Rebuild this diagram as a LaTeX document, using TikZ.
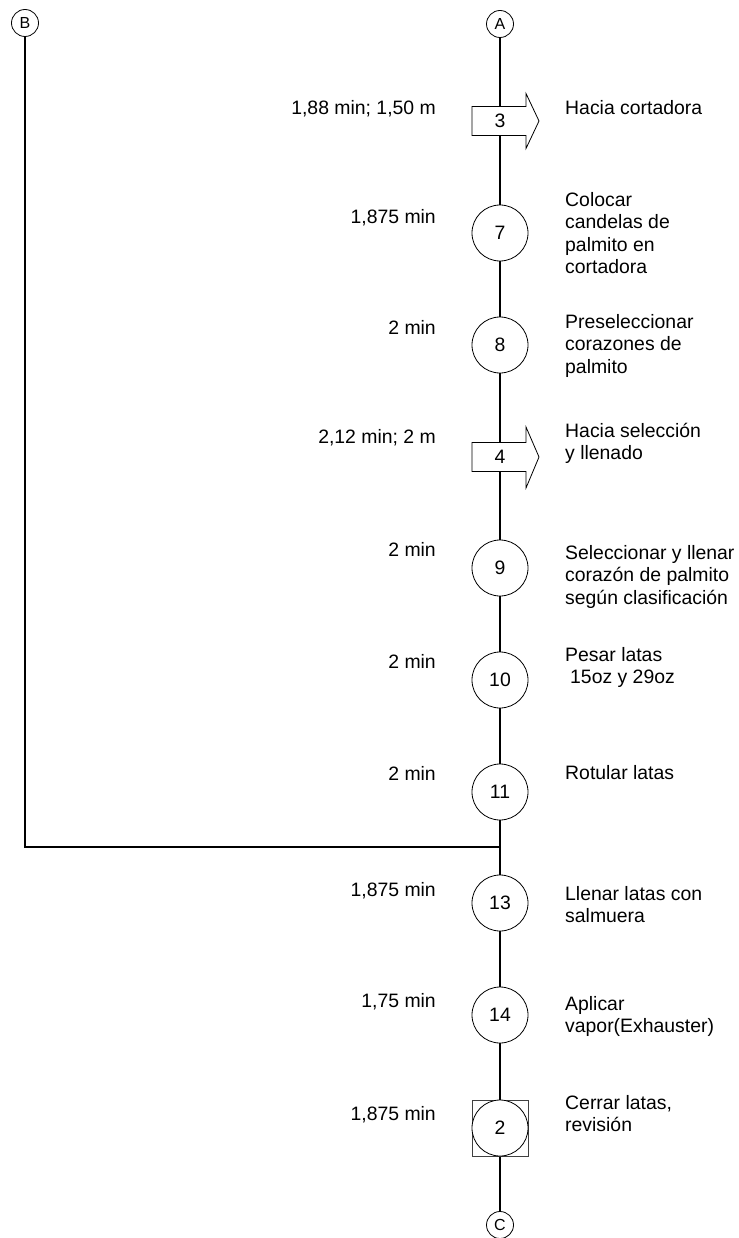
\documentclass[tikz,border=0pt]{standalone}
\usepackage{fontspec}
\setmainfont{Liberation Sans}
\begin{document}
\begin{tikzpicture}[x=1pt,y=-1pt,
  txt/.style={font=\fontsize{19.4}{22.5}\selectfont, inner sep=0pt},
  desc/.style={txt, align=left, anchor=north west},
  timing/.style={txt, anchor=base east},
  op/.style={circle, draw, fill=white, line width=0.8pt, minimum size=56pt, inner sep=0pt,
    font=\fontsize{19.4}{22.5}\selectfont},
  insp/.style={rectangle, draw=black!75, fill=white, line width=0.8pt, minimum size=56pt, inner sep=0pt},
  conn/.style={circle, draw, fill=white, line width=0.8pt, minimum size=27pt, inner sep=0pt,
    font=\fontsize{16}{18}\selectfont},
  flow/.style={line width=1.3pt},
  transp/.style={draw, fill=white, line width=0.8pt}
]
\useasboundingbox (0,0) rectangle (738,1238);
\newcommand\firstline{\rule{0pt}{15pt}}

% off-page connectors
\node[conn] (A) at (500,24) {A};
\node[conn] (B) at (25,23) {B};
\node[conn] (C) at (500,1225) {C};
\coordinate (join) at (500,847);

% main flow line and the branch coming from B
\draw[flow] (A.south) -- (C.north);
\draw[flow] (B.south) |- (join);

% transport 3
\filldraw[transp] (472,106.5) -- (526,106.5) -- (526,93.5) -- (539,121) -- (526,148.5)
  -- (526,135.5) -- (472,135.5) -- cycle;
\node[txt] (t3) at (500,121) {3};

% transport 4
\filldraw[transp] (472,442.5) -- (526,442.5) -- (526,427) -- (539,457) -- (526,488)
  -- (526,471.5) -- (472,471.5) -- cycle;
\node[txt] (t4) at (500,457) {4};

% operations
\node[op] (o7) at (500,233) {7};
\node[op] (o8) at (500,345) {8};
\node[op] (o9) at (500,568) {9};
\node[op] (o10) at (500,680) {10};
\node[op] (o11) at (500,792) {11};
\node[op] (o13) at (500,903) {13};
\node[op] (o14) at (500,1015) {14};
\node[insp] (sq2) at (500,1128) {};
\node[op] (o2) at (500,1128) {2};

% times and distances
\node[timing] (tm3) at (436,115) {1,88 min; 1,50 m};
\node[timing] (tm7) at (436,224) {1,875 min};
\node[timing] (tm8) at (436,334) {2 min};
\node[timing] (tm4) at (436,443) {2,12 min; 2 m};
\node[timing] (tm9) at (436,556) {2 min};
\node[timing] (tm10) at (436,668) {2 min};
\node[timing] (tm11) at (436,780) {2 min};
\node[timing] (tm13) at (436,896) {1,875 min};
\node[timing] (tm14) at (436,1007) {1,75 min};
\node[timing] (tm2) at (436,1120) {1,875 min};

% descriptions
\node[desc] (d3) at (565,99) {\firstline Hacia cortadora};
\node[desc] (d7) at (565,191) {\firstline Colocar\\candelas de\\palmito en\\cortadora};
\node[desc] (d8) at (565,313) {\firstline Preseleccionar\\corazones de\\palmito};
\node[desc] (d4) at (565,422) {\firstline Hacia selección\\y llenado};
\node[desc] (d9) at (565,544) {\firstline Seleccionar y llenar\\corazón de palmito\\según clasificación};
\node[desc] (d10) at (565,646) {\firstline Pesar latas\\\hspace{5pt}15oz y 29oz};
\node[desc] (d11) at (565,764) {\firstline Rotular latas};
\node[desc] (d13) at (565,885) {\firstline Llenar latas con\\salmuera};
\node[desc] (d14) at (565,995) {\firstline Aplicar\\vapor(Exhauster)};
\node[desc] (d2) at (565,1094) {\firstline Cerrar latas,\\revisión};
\end{tikzpicture}
\end{document}
